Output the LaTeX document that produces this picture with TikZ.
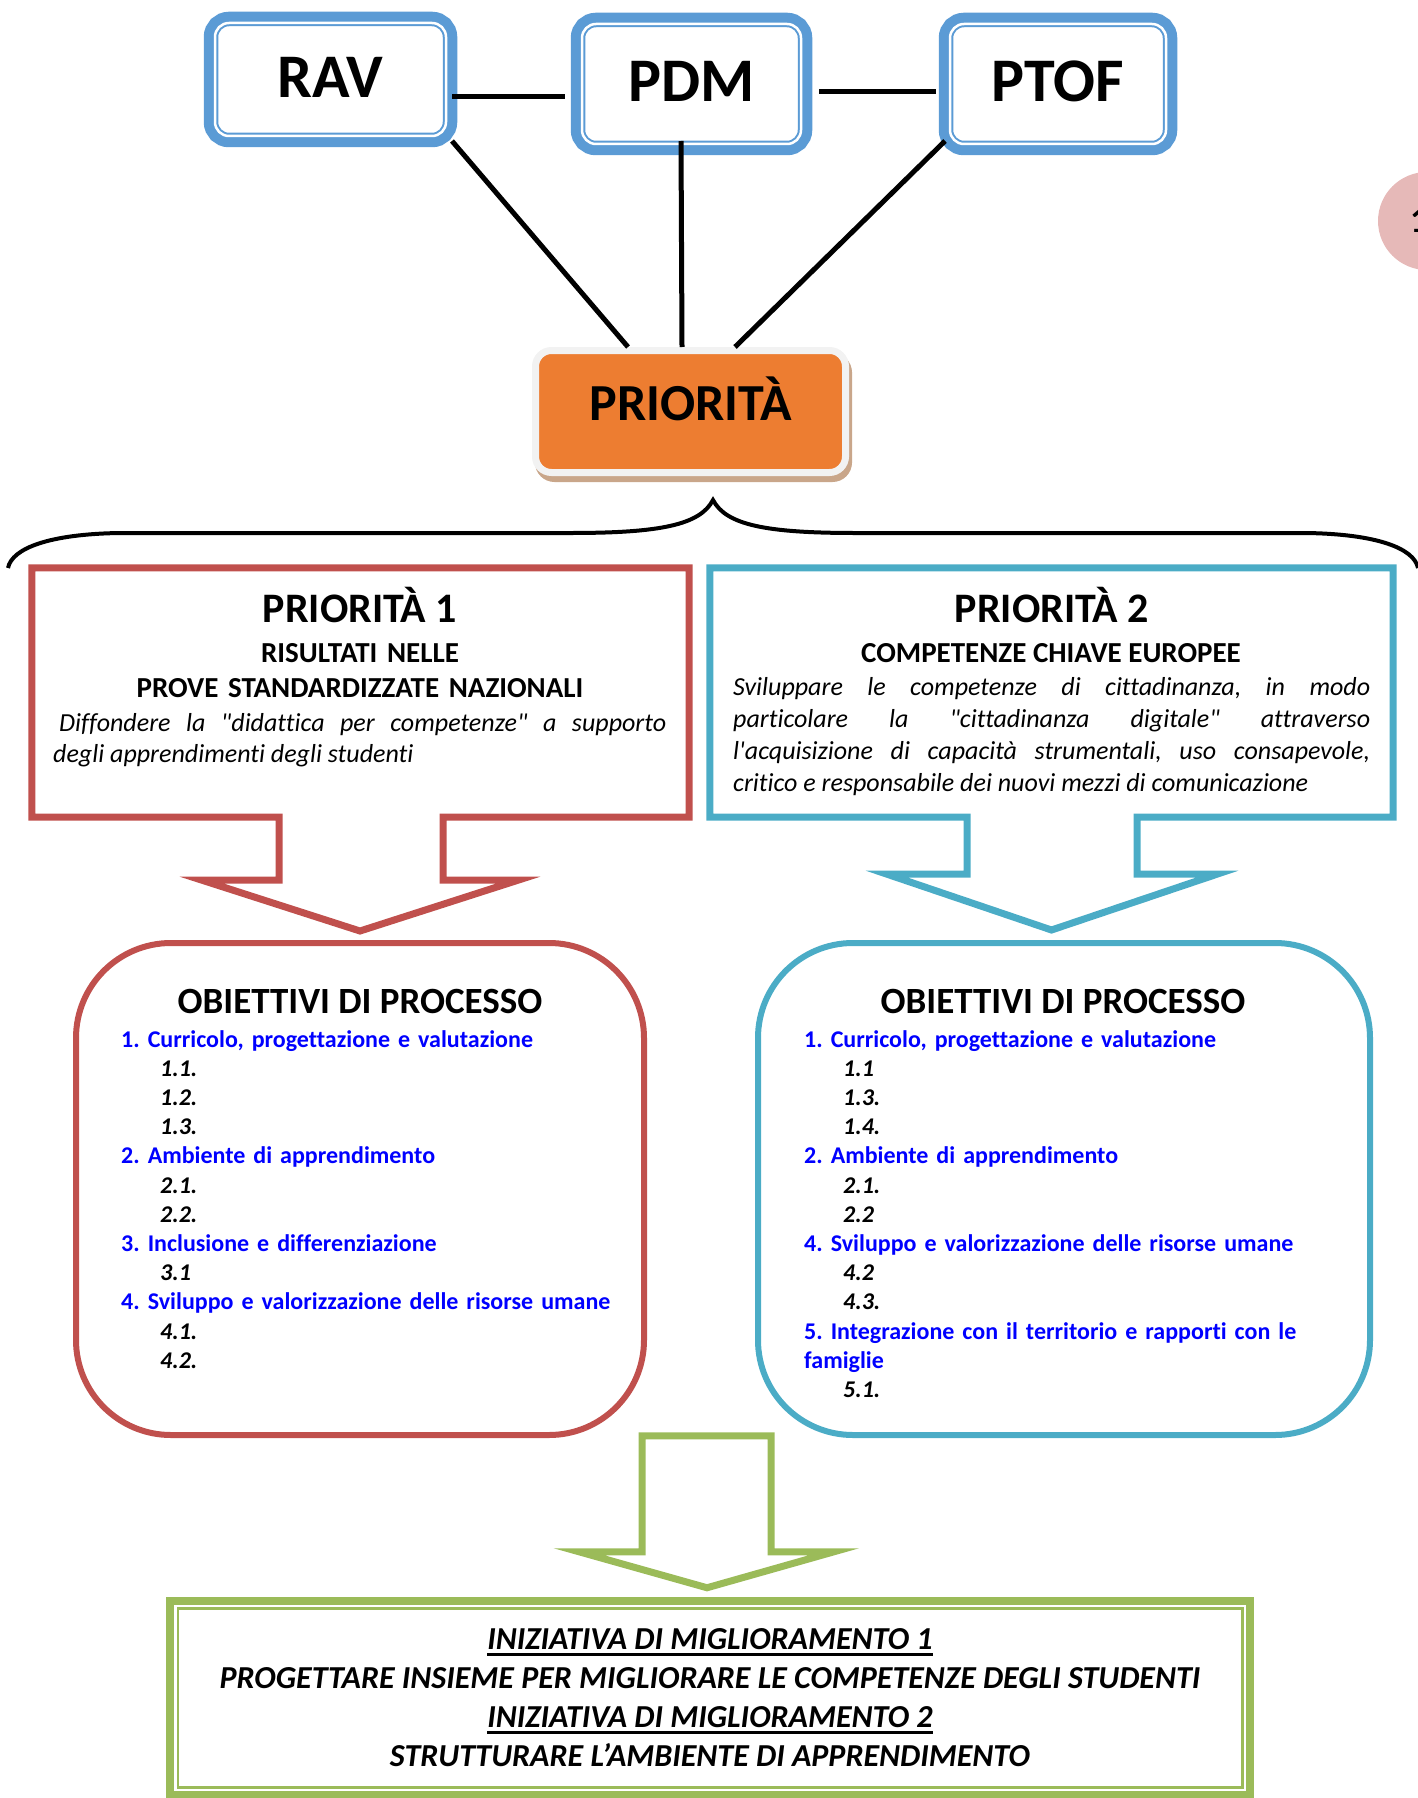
\documentclass[tikz,border=0pt]{standalone}
\usepackage{fontspec}
\setmainfont{Carlito}[Ligatures=CommonOff]
\newfontfamily\plainfont{Carlito}[Ligatures=CommonOff]
\usepackage{xcolor}
\definecolor{TopBlue}{HTML}{5B9BD5}
\definecolor{PrioOrange}{HTML}{ED7D31}
\definecolor{PrioRim}{HTML}{F2F2F2}
\definecolor{PrioShade}{HTML}{C9A68A}
\definecolor{CallRed}{HTML}{C0504D}
\definecolor{CallTeal}{HTML}{4BACC6}
\definecolor{CallGreen}{HTML}{9BBB59}
\definecolor{ListBlue}{HTML}{0000FF}
\definecolor{PageDot}{HTML}{E6B9B8}
\usepackage{tikz}
\usetikzlibrary{calc}
\frenchspacing
\newcommand{\obj}[1]{{\color{ListBlue}\bfseries #1}}
\newcommand{\subobj}[1]{\hspace*{39pt}{\bfseries\itshape #1}}
\newcommand{\ulined}[1]{\setbox0\hbox{#1}\rlap{\rule[-6pt]{\wd0}{2.5pt}}\box0}

\begin{document}
\begin{tikzpicture}[x=1pt,y=1pt,
  topbox/.style={draw=TopBlue,line width=2pt,double=white,double distance=2.5pt,preaction={draw=TopBlue,line width=22.5pt},fill=white,rounded corners=14pt,inner sep=0pt,font=\fontsize{62}{62}\selectfont\bfseries,text height=40pt,text depth=4pt},
  prio/.style={draw=PrioRim,line width=7pt,fill=PrioOrange,rounded corners=16pt,inner sep=0pt,font=\fontsize{52}{52}\selectfont\bfseries,text height=35pt,text depth=18pt,preaction={draw=PrioShade,fill=PrioShade,line width=7pt,transform canvas={shift={(3pt,-6pt)}}}},
  link/.style={line width=5pt},
  brace/.style={line width=4pt},
  frame/.style={inner sep=0pt},
  callred/.style={draw=CallRed,line width=7pt},
  callteal/.style={draw=CallTeal,line width=7pt},
  callgreen/.style={draw=CallGreen,line width=7pt},
  obox/.style={line width=6pt,rounded corners=95pt,inner sep=0pt},
  impbox/.style={draw=CallGreen,line width=2.5pt,double=white,double distance=2.5pt,preaction={draw=CallGreen,line width=18.5pt},fill=white,inner sep=0pt,align=center,font=\fontsize{32}{39}\selectfont\bfseries\itshape},
  txt/.style={inner sep=0pt}
]
  \useasboundingbox (0,0) rectangle (1417,-1798);

  % top row
  \node[topbox,minimum width=231pt,minimum height=113pt] (rav) at (330.5,-79.5) {RAV};
  \node[topbox,minimum width=219pt,minimum height=120pt] (pdm) at (691.5,-84) {PDM};
  \node[topbox,minimum width=216pt,minimum height=120pt] (ptof) at (1058,-84) {PTOF};
  \node[circle,fill=PageDot,minimum size=98pt,inner sep=0pt,font=\fontsize{36}{36}\selectfont\bfseries] (pg) at (1427,-221) {\makebox[34pt][l]{1}};

  \node[prio,minimum width=310pt,minimum height=122pt] (prio) at (690.5,-411.5) {PRIORITÀ};

  \draw[link] ([shift={(5,-17.5)}]rav.east) -- ([shift={(-16,-13)}]pdm.west);
  \draw[link] ([shift={(17,-8)}]pdm.east) -- ([shift={(-13,-8)}]ptof.west);
  \draw[link] ([shift={(5,-4)}]rav.south east) -- ([xshift=-62.5pt]prio.north);
  \draw[link] ([shift={(-10.5,4)}]pdm.south) -- ([xshift=-8.5pt]prio.north);
  \draw[link] ([shift={(-4,4)}]ptof.south west) -- ([xshift=44.5pt]prio.north);

  % brace
  \draw[brace] (8,-568) .. controls (12,-548) and (50,-534) .. (120,-533) -- (570,-533)
    .. controls (660,-533) and (700,-525) .. (713,-500)
    .. controls (726,-525) and (766,-533) .. (856,-533) -- (1306,-533)
    .. controls (1376,-534) and (1414,-548) .. (1418,-568);

  % priorities
  \node[frame,minimum width=657pt,minimum height=249pt] (p1) at (360.5,-692.5) {};
  \node[frame,minimum width=683pt,minimum height=249pt] (p2) at (1051.5,-692.5) {};
  \node[obox,draw=CallRed,minimum width=568pt,minimum height=492pt] (ob1) at (360,-1189) {};
  \node[obox,draw=CallTeal,minimum width=612pt,minimum height=492pt] (ob2) at (1064,-1189) {};

  \node[txt,anchor=base,font=\fontsize{42}{42}\selectfont\bfseries] (t1) at (360,-622) {PRIORITÀ 1};
  \node[txt,anchor=base,text width=600pt,align=center,font=\fontsize{29}{35}\selectfont\bfseries] (s1) at (360,-662) {RISULTATI NELLE\\PROVE STANDARDIZZATE NAZIONALI};
  \node[txt,anchor=base west,text width=613pt,align=justify,font=\fontsize{26}{31}\selectfont\plainfont\itshape] (d1) at (53,-731)
    {\hspace*{6pt}Diffondere la "didattica per competenze" a supporto\linebreak degli apprendimenti degli studenti};

  \node[txt,anchor=base,font=\fontsize{42}{42}\selectfont\bfseries] (t2) at (1052,-622) {PRIORITÀ 2};
  \node[txt,anchor=base,font=\fontsize{29}{35}\selectfont\bfseries] (s2) at (1051,-662) {COMPETENZE CHIAVE EUROPEE};
  \node[txt,anchor=base west,text width=637pt,align=justify,font=\fontsize{26}{32.3}\selectfont\plainfont\itshape] (d2) at (733,-695)
    {Sviluppare le competenze di cittadinanza, in modo\linebreak particolare la "cittadinanza digitale" attraverso\linebreak l'acquisizione di capacità strumentali, uso consapevole,\linebreak critico e responsabile dei nuovi mezzi di comunicazione};

  % process goals
  \node[txt,anchor=base,font=\fontsize{37}{37}\selectfont\bfseries] (o1) at (360,-1013) {OBIETTIVI DI PROCESSO};
  \node[txt,anchor=base,font=\fontsize{37}{37}\selectfont\bfseries] (o2) at (1063,-1013) {OBIETTIVI DI PROCESSO};
  \node[txt,anchor=base west,text width=520pt,align=left,font=\fontsize{24}{29.2}\selectfont] (l1) at (121,-1047)
    {\obj{1. Curricolo, progettazione e valutazione}\\
     \subobj{1.1.}\\ \subobj{1.2.}\\ \subobj{1.3.}\\
     \obj{2. Ambiente di apprendimento}\\
     \subobj{2.1.}\\ \subobj{2.2.}\\
     \obj{3. Inclusione e differenziazione}\\
     \subobj{3.1}\\
     \obj{4. Sviluppo e valorizzazione delle risorse umane}\\
     \subobj{4.1.}\\ \subobj{4.2.}};
  \node[txt,anchor=base west,text width=540pt,align=left,font=\fontsize{24}{29.2}\selectfont] (l2) at (804,-1047)
    {\obj{1. Curricolo, progettazione e valutazione}\\
     \subobj{1.1}\\ \subobj{1.3.}\\ \subobj{1.4.}\\
     \obj{2. Ambiente di apprendimento}\\
     \subobj{2.1.}\\ \subobj{2.2}\\
     \obj{4. Sviluppo e valorizzazione delle risorse umane}\\
     \subobj{4.2}\\ \subobj{4.3.}\\
     \obj{5. Integrazione con il territorio e rapporti con le}\\
     \obj{famiglie}\\
     \subobj{5.1.}};

  % improvement
  \node[impbox,minimum width=1069.5pt,minimum height=184pt] (imp) at (710,-1698)
    {\ulined{INIZIATIVA DI MIGLIORAMENTO 1}\\
     PROGETTARE INSIEME PER MIGLIORARE LE COMPETENZE DEGLI STUDENTI\\
     \ulined{INIZIATIVA DI MIGLIORAMENTO 2}\\
     STRUTTURARE L’AMBIENTE DI APPRENDIMENTO};

  % block arrows
  \coordinate (tip1) at ($(ob1.north)+(0,9)$);
  \coordinate (tip2) at ($(p2.south |- ob2.north)+(0,10)$);
  \coordinate (tip3) at ($(imp.north)+(-3,17)$);
  \draw[callred] ([xshift=-81.5pt]p1.south) -- (p1.south west) -- (p1.north west) -- (p1.north east) -- (p1.south east)
    -- ([xshift=82.5pt]p1.south) -- ++(0,-63) -- ++(75,0) -- (tip1) -- ([shift={(-158.5,-63)}]p1.south) -- ++(77,0) -- cycle;
  \draw[callteal] ([xshift=-84.5pt]p2.south) -- (p2.south west) -- (p2.north west) -- (p2.north east) -- (p2.south east)
    -- ([xshift=85.5pt]p2.south) -- ++(0,-57) -- ++(80,0) -- (tip2) -- ([shift={(-164.5,-57)}]p2.south) -- ++(80,0) -- cycle;
  \draw[callgreen] (tip3) -- ++(127,36) -- ++(-63,0) -- ++(0,116) -- ++(-129,0) -- ++(0,-116) -- ++(-63,0) -- cycle;
\end{tikzpicture}
\end{document}
